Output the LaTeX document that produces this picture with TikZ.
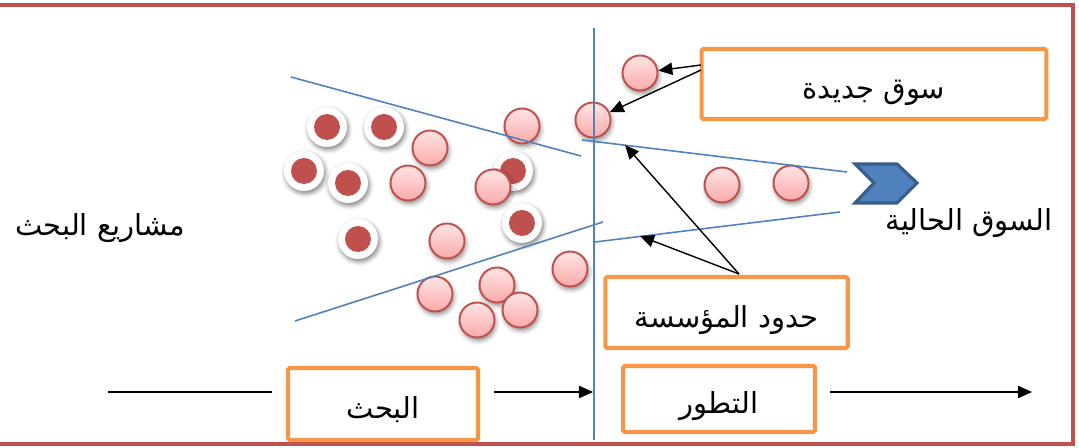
\documentclass[tikz,border=0pt]{standalone}
\usepackage{fontspec}
\newfontfamily\arabicfont[Script=Arabic]{DejaVu Sans}
\TeXXeTstate=1
\usetikzlibrary{arrows.meta,shadows.blur}
\definecolor{framered}{RGB}{192,80,77}
\definecolor{lineblue}{RGB}{79,129,189}
\definecolor{chevronedge}{RGB}{56,93,138}
\definecolor{boxorange}{RGB}{247,150,70}
\definecolor{balltop}{RGB}{255,228,228}
\definecolor{ballbottom}{RGB}{250,170,170}

\begin{document}
\begin{tikzpicture}[x=0.02cm,y=-0.02cm]
        \useasboundingbox (0,0) rectangle (1079,448);
        \draw[framered, line width=2.4pt] (-20,5) -- (1073,5) -- (1073,444) -- (-20,444);
        \begin{scope}[every node/.style={circle, inner sep=0pt, minimum size=0.8cm, fill=white,
                        blur shadow={shadow xshift=0.8pt, shadow yshift=-1.5pt, shadow blur radius=2.5pt, shadow opacity=50},
                        path picture={\fill[framered] (path picture bounding box.center) circle (0.26cm);}}]
                \node (d1) at (327,127) {};
                \node (d2) at (384,127) {};
                \node (d3) at (304,171) {};
                \node (d4) at (348,183) {};
                \node (d5) at (513,171) {};
                \node (d6) at (358,239) {};
                \node (d7) at (522,223) {};
        \end{scope}
        \begin{scope}[every node/.style={circle, inner sep=0pt, minimum size=0.7cm, draw=framered, line width=1.1pt,
                        top color=balltop, bottom color=ballbottom,
                        blur shadow={shadow xshift=0.8pt, shadow yshift=-1.8pt, shadow blur radius=2.5pt, shadow opacity=45}}]
                \node (b1) at (430,148) {};
                \node (b2) at (408,183) {};
                \node (b3) at (522,126) {};
                \node (b4) at (493,187) {};
                \node (b5) at (447,241) {};
                \node (b6) at (435,294) {};
                \node (b7) at (497,285) {};
                \node (b8) at (520,310) {};
                \node (b9) at (477,320) {};
                \node (b10) at (570,269) {};
                \node (nm1) at (640,73) {};
                \node (nm2) at (593,120) {};
                \node (cm1) at (722,185) {};
                \node (cm2) at (791,183) {};
        \end{scope}
        \coordinate (ul1) at (291,77);
        \coordinate (ul2) at (581,156);
        \coordinate (ll1) at (295,321);
        \coordinate (ll2) at (603,222);
        \coordinate (ur1) at (582,140);
        \coordinate (ur2) at (847,172);
        \coordinate (lr1) at (595,242);
        \coordinate (lr2) at (840,212);
        \coordinate (v1) at (594,28);
        \coordinate (v2) at (594,440);
        \begin{scope}[every path/.style={draw=lineblue, line width=0.9pt}]
                \path (ul1) -- (ul2);
                \path (ll1) -- (ll2);
                \path (ur1) -- (ur2);
                \path (lr1) -- (lr2);
                \path (v1) -- (v2);
        \end{scope}
        \filldraw[fill=lineblue, draw=chevronedge, line width=1.8pt, line join=miter]
                (855,164) -- (897,164) -- (917,183) -- (897,203) -- (855,203) -- (874,183) -- cycle;
        \begin{scope}[every node/.style={draw=boxorange, line width=2.3pt, rounded corners=1pt, inner sep=0pt,
                        text height=17pt, text depth=0pt, font=\arabicfont\fontsize{16.5}{20}\selectfont}]
                \node[minimum width=6.9cm, minimum height=1.4cm] (nj) at (874,84) {\beginR سوق جديدة\endR};
                \node[minimum width=4.85cm, minimum height=1.42cm] (hm) at (726.5,312.5) {\beginR حدود المؤسسة\endR};
                \node[minimum width=3.84cm, minimum height=1.32cm] (tt) at (719,399) {\beginR التطور\endR};
                \node[minimum width=3.8cm, minimum height=1.44cm] (bh) at (383,404) {\beginR البحث\endR};
        \end{scope}
        \node[font=\arabicfont\fontsize{16.5}{20}\selectfont] (mb) at (100,228) {\beginR مشاريع البحث\endR};
        \node[font=\arabicfont\fontsize{16.5}{20}\selectfont] (sh) at (969,223) {\beginR السوق الحالية\endR};
        \coordinate (nja) at (701,65);
        \coordinate (njb) at (701,70);
        \coordinate (hs) at (739,274);
        \coordinate (hta) at (625,145);
        \coordinate (htb) at (640,236);
        \coordinate (l0) at (108,392);
        \coordinate (l1) at (272,392);
        \coordinate (a0) at (494,392);
        \coordinate (a1) at (593,392);
        \coordinate (e0) at (830,392);
        \coordinate (e1) at (1032,392);
        \begin{scope}[every path/.style={draw=black, line width=0.8pt, -{Triangle[length=8pt,width=7pt]}}]
                \path (nja) -- (nm1);
                \path (njb) -- (nm2);
                \path (hs) -- (hta);
                \path (hs) -- (htb);
                \path (a0) -- (a1);
                \path (e0) -- (e1);
        \end{scope}
        \draw[line width=0.8pt] (l0) -- (l1);
\end{tikzpicture}
\end{document}
